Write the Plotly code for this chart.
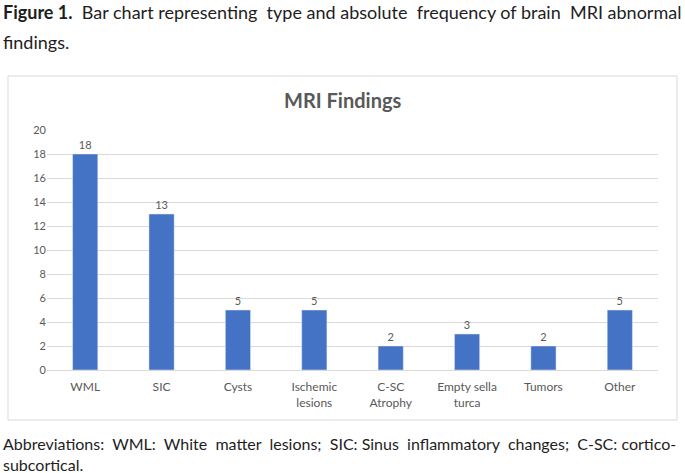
import plotly.graph_objects as go

categories = ["WML", "SIC", "Cysts", "Ischemic<br>lesions", "C-SC<br>Atrophy",
              "Empty sella<br>turca", "Tumors", "Other"]
counts = [18, 13, 5, 5, 2, 3, 2, 5]
y_ticks = [0, 2, 4, 6, 8, 10, 12, 14, 16, 18, 20]

caption_words = ["<b>Figure 1.</b>", "Bar", "chart", "representing", "type", "and",
                 "absolute", "frequency", "of", "brain", "MRI", "abnormal"]
abbr_words = ["Abbreviations:", "WML:", "White", "matter", "lesions;", "SIC:", "Sinus",
              "inflammatory", "changes;", "C-SC:", "cortico-"]

W, H = 685, 473
L, R, T, B = 47, 658, 130, 370  # plot area in pixels


def px(x):
    return (x - L) / (R - L)


def py(y):
    return (B - y) / (B - T)


FONT = "Lato, Carlito, Calibri, sans-serif"
GRAY = "#595959"
TXT = "#1e1e1e"
NB = "\u00a0"


def justify(words, wide_gaps):
    """Join words, adding a non-breaking space after the listed gap indices."""
    out = words[0]
    for i, w in enumerate(words[1:]):
        out += (" " + NB if i in wide_gaps else " ") + w
    return out


caption_line = justify(caption_words, {0, 3, 6, 9})
abbr_line = justify(abbr_words, {0, 1, 2, 3, 4, 6, 7, 8})

fig = go.Figure(go.Bar(
    x=categories, y=counts, marker_color="#4472C4", width=0.33,
    text=counts, textposition="outside", cliponaxis=False,
    textfont=dict(family=FONT, size=11, color=GRAY),
))


def line(text, x, y, size):
    return dict(text=text, xref="paper", yref="paper", x=px(x), y=py(y),
                showarrow=False, xanchor="left", yanchor="middle", borderpad=0,
                font=dict(family=FONT, size=size, color=TXT))


annotations = [
    dict(text="<b>MRI Findings</b>", xref="paper", yref="paper",
         x=px(342.5), y=py(100), showarrow=False, xanchor="center", yanchor="middle",
         font=dict(family=FONT, size=20, color=GRAY)),
    line(caption_line, 2, 12, 18),
    line("findings.", 2, 42, 18),
    line(abbr_line, 2, 443, 16),
    line("subcortical.", 2, 464, 16),
]

fig.update_layout(
    width=W, height=H,
    margin=dict(l=L, r=W - R, t=T, b=H - B),
    paper_bgcolor="white", plot_bgcolor="white",
    showlegend=False,
    font=dict(family=FONT, color=GRAY, size=11),
    xaxis=dict(showgrid=False, showline=True, linecolor="#d9d9d9",
               tickfont=dict(size=12, color=GRAY), ticks="", fixedrange=True,
               ticklabelstandoff=6),
    yaxis=dict(range=[0, 20], tickvals=y_ticks, showgrid=True, gridcolor="#d9d9d9",
               zeroline=False, ticks="", tickfont=dict(size=11, color=GRAY),
               showline=False, fixedrange=True),
    shapes=[dict(type="rect", xref="paper", yref="paper",
                 x0=px(8), x1=px(677), y0=py(420), y1=py(76),
                 line=dict(color="#d9d9d9", width=1), fillcolor="rgba(0,0,0,0)",
                 layer="below")],
    annotations=annotations,
)

fig.write_html("out.html", config={"displayModeBar": False},
               post_script="document.body.style.margin='0';")
